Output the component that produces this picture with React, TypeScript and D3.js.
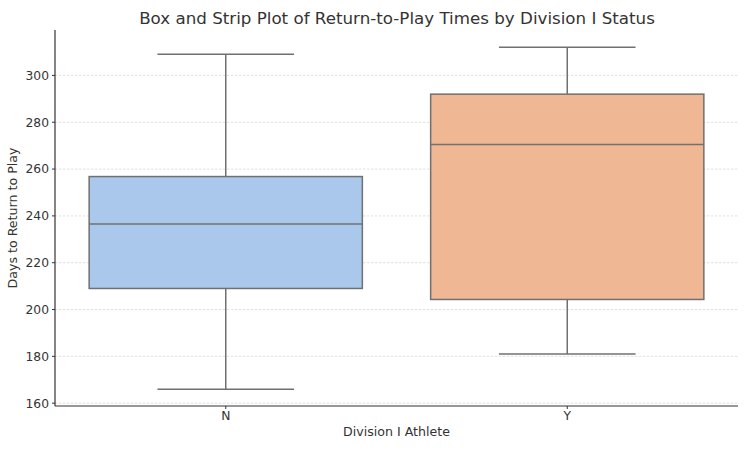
import React from "react";
import * as d3 from "d3";

// box statistics
const categories = ["N", "Y"];
const whiskerLow = [166, 181];
const q1 = [209, 204.3];
const medians = [236.5, 270.5];
const q3 = [256.8, 292];
const whiskerHigh = [309, 312];
const yTicks = [160, 180, 200, 220, 240, 260, 280, 300];
const fills = ["#aac8eb", "#efb793"];

const W = 750, H = 450;
const margin = { top: 30, right: 12, bottom: 44, left: 55 };
const font = "DejaVu Sans, sans-serif";

export default function App() {
  const innerW = W - margin.left - margin.right;
  const innerH = H - margin.top - margin.bottom;

  const x = d3.scaleBand().domain(categories).range([0, innerW]).padding(0);
  const y = d3.scaleLinear().domain([158.8, 319.4]).range([innerH, 0]);

  const bw = x.bandwidth() * 0.8;
  const line = "#707070";

  return (
    <svg width={W} height={H} style={{ position: "absolute", left: 0, top: 0 }} fontFamily={font}>
      <rect width={W} height={H} fill="#fff" />
      <text x={397} y={24} textAnchor="middle" fontSize={16.7} fill="#333">
        Box and Strip Plot of Return-to-Play Times by Division I Status
      </text>
      <g transform={`translate(${margin.left},${margin.top})`}>
        {/* grid */}
        {yTicks.map(t => (
          <line key={t} x1={0} x2={innerW} y1={y(t)} y2={y(t)}
            stroke="#d4d4d4" strokeWidth={0.7} strokeDasharray="2.5,1.5" />
        ))}

        {categories.map((c, i) => {
          const cx = x(c)! + x.bandwidth() / 2;
          return (
            <g key={c}>
              <line x1={cx} x2={cx} y1={y(whiskerHigh[i])} y2={y(q3[i])} stroke={line} strokeWidth={1.5} />
              <line x1={cx} x2={cx} y1={y(q1[i])} y2={y(whiskerLow[i])} stroke={line} strokeWidth={1.5} />
              <line x1={cx - bw / 4} x2={cx + bw / 4} y1={y(whiskerHigh[i])} y2={y(whiskerHigh[i])} stroke={line} strokeWidth={1.5} />
              <line x1={cx - bw / 4} x2={cx + bw / 4} y1={y(whiskerLow[i])} y2={y(whiskerLow[i])} stroke={line} strokeWidth={1.5} />
              <rect x={cx - bw / 2} width={bw} y={y(q3[i])} height={y(q1[i]) - y(q3[i])}
                fill={fills[i]} stroke={line} strokeWidth={1.5} />
              <line x1={cx - bw / 2} x2={cx + bw / 2} y1={y(medians[i])} y2={y(medians[i])} stroke={line} strokeWidth={1.5} />
            </g>
          );
        })}

        {/* y axis */}
        {yTicks.map(t => (
          <g key={t} transform={`translate(0,${y(t)})`}>
            <line x1={-3} x2={0} stroke="#333" />
            <text x={-6} dy="0.35em" textAnchor="end" fontSize={12.3} fill="#333">{t}</text>
          </g>
        ))}
        {/* x axis */}
        {categories.map(c => {
          const cx = x(c)! + x.bandwidth() / 2;
          return (
            <g key={c} transform={`translate(${cx},${innerH})`}>
              <line y1={0} y2={3} stroke="#333" />
              <text y={10} dy="0.35em" textAnchor="middle" fontSize={12.3} fill="#333">{c}</text>
            </g>
          );
        })}
        <line x1={0} x2={0} y1={0} y2={innerH} stroke="#333" strokeWidth={1.2} />
        <line x1={0} x2={innerW} y1={innerH} y2={innerH} stroke="#333" strokeWidth={1.2} />

        <text x={innerW / 2} y={innerH + 30} textAnchor="middle" fontSize={12.6} fill="#333">Division I Athlete</text>
        <text transform={`translate(${-38},${innerH / 2}) rotate(-90)`} textAnchor="middle" fontSize={12.6} fill="#333">
          Days to Return to Play
        </text>
      </g>
    </svg>
  );
}
